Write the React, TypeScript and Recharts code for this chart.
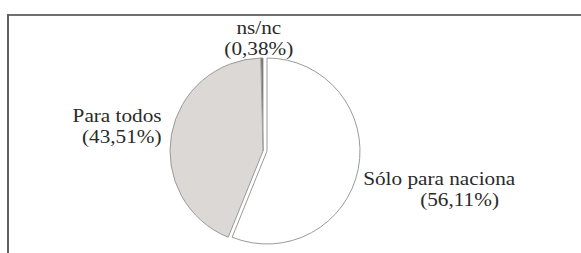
import React from 'react'
import { PieChart, Pie, Cell } from 'recharts'

const names = ['ns/nc', 'Para todos', 'Sólo para naciona']
const values = [0.38, 43.51, 56.11]
const fills = ['#5a5a5a', '#dcd8d6', '#ffffff']
const exploded = [false, false, true]

const data = names.map((name, i) => ({ name, value: values[i] }))

const RAD = Math.PI / 180
const fmt = (v: number) => '(' + v.toFixed(2).replace('.', ',') + '%)'
const serif = '"Liberation Serif", "Times New Roman", Times, "DejaVu Serif", serif'

function PieLabel(props: any) {
  const { cx, cy, midAngle, outerRadius, index } = props
  const r = outerRadius + 6
  const cos = Math.cos(midAngle * RAD)
  const sin = Math.sin(midAngle * RAD)
  const px = cx + r * cos
  const py = cy - r * sin
  const lines = [names[index], fmt(values[index])]
  const lh = 21
  const anchor = Math.abs(cos) < 0.2 ? 'middle' : cos < 0 ? 'end' : 'start'
  // upper half: stack lines above the point, lower half: below it
  const y0 = sin > 0 ? py - lh * (lines.length - 1) + (anchor === 'middle' ? -3 : 3) : py + 9
  const x0 = anchor === 'start' ? px + 3 : anchor === 'end' ? px - 4 : px - 3
  return (
    <g>
      {lines.map((t, i) => {
        const dx = anchor === 'start' && i > 0 ? 57 : 0
        return (
          <g key={i} transform={`translate(${x0 + dx},${y0 + i * lh}) scale(1.18,1)`}>
            <text
              x={0}
              y={0}
              dy="0.35em"
              textAnchor={anchor}
              style={{ fontFamily: serif, fontSize: 18 }}
              fill="#2a2a2a"
            >
              {t}
            </text>
          </g>
        )
      })}
    </g>
  )
}

export default function App() {
  return (
    <div style={{ position: 'absolute', left: 0, top: 0, width: 581, height: 253, background: '#fff', fontFamily: serif }}>
      <div style={{ position: 'absolute', left: 7, top: 14, width: 574, height: 2, background: '#707070' }} />
      <div style={{ position: 'absolute', left: 7, top: 14, width: 2, height: 239, background: '#606060' }} />
      <PieChart width={581} height={253} margin={{ top: 0, right: 0, bottom: 0, left: 0 }} style={{ position: 'absolute', left: 0, top: 0 }}>
        <Pie
          data={data}
          dataKey="value"
          cx={263}
          cy={151}
          outerRadius={93}
          startAngle={90}
          endAngle={450}
          stroke="#9a9a9a"
          strokeWidth={1}
          label={PieLabel}
          labelLine={false}
          isAnimationActive={false}
        >
          {data.map((d, i) => (
            <Cell key={d.name} fill={exploded[i] ? 'none' : fills[i]} stroke={exploded[i] ? 'none' : '#9a9a9a'} />
          ))}
        </Pie>
        <Pie
          data={data}
          dataKey="value"
          cx={267}
          cy={151}
          outerRadius={93}
          startAngle={90}
          endAngle={450}
          strokeWidth={1}
          isAnimationActive={false}
        >
          {data.map((d, i) => (
            <Cell key={d.name} fill={exploded[i] ? fills[i] : 'none'} stroke={exploded[i] ? '#9a9a9a' : 'none'} />
          ))}
        </Pie>
      </PieChart>
    </div>
  )
}
